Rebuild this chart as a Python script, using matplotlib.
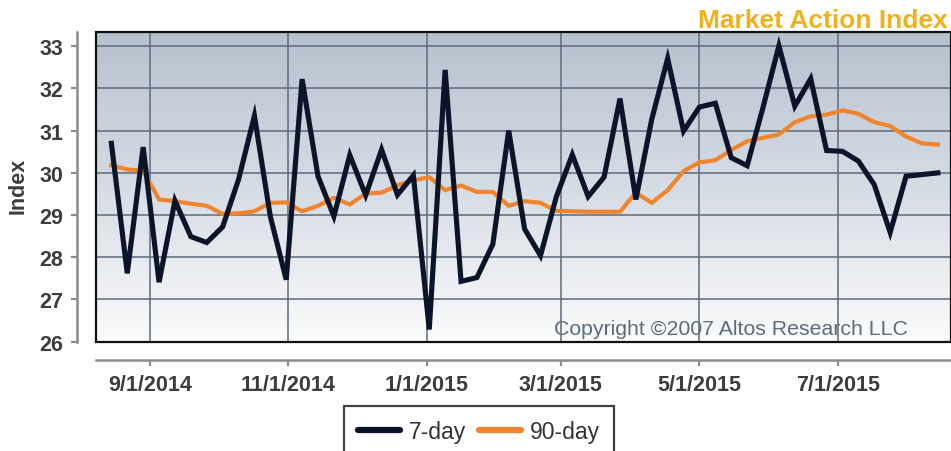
import numpy as np
import pandas as pd
import matplotlib
matplotlib.use('Agg')
import matplotlib.pyplot as plt
from matplotlib.patches import Rectangle


# weekly readings, Aug 15 2014 .. Aug 14 2015
dates = pd.date_range('2014-08-15', periods=53, freq='7D')

day7 = [30.70, 27.62, 30.61, 27.41, 29.34, 28.49, 28.35, 28.72, 29.84, 31.35,
        28.97, 27.47, 32.22, 29.92, 28.97, 30.42, 29.47, 30.55, 29.48, 29.94,
        26.29, 32.44, 27.43, 27.52, 28.31, 31.00, 28.67, 28.04, 29.44, 30.43,
        29.44, 29.90, 31.76, 29.37, 31.27, 32.71, 30.99, 31.56, 31.65, 30.36,
        30.17, 31.55, 33.01, 31.58, 32.23, 30.53, 30.51, 30.28, 29.72, 28.59,
        29.92, 29.96, 30.00]

day90 = [30.18, 30.08, 30.05, 29.37, 29.33, 29.27, 29.22, 29.03, 29.04, 29.09,
         29.29, 29.30, 29.09, 29.22, 29.41, 29.25, 29.51, 29.53, 29.71, 29.82,
         29.90, 29.59, 29.70, 29.55, 29.55, 29.22, 29.33, 29.29, 29.10, 29.09,
         29.08, 29.08, 29.08, 29.53, 29.29, 29.59, 30.04, 30.25, 30.30, 30.54,
         30.75, 30.83, 30.91, 31.20, 31.34, 31.38, 31.48, 31.40, 31.20, 31.11,
         30.86, 30.70, 30.67]

xtick_labels = ['9/1/2014', '11/1/2014', '1/1/2015', '3/1/2015', '5/1/2015', '7/1/2015']
yticks = [26, 27, 28, 29, 30, 31, 32, 33]


def main():
    plt.rcParams['font.family'] = ['Liberation Sans', 'DejaVu Sans']

    fig = plt.figure(figsize=(9.51, 4.52), dpi=100)
    ax = fig.add_axes([0.1009, 0.2418, 0.8991, 0.6845])

    # background gradient inside the plot box
    grad = np.linspace(0, 1, 256).reshape(-1, 1)
    cmap = matplotlib.colors.LinearSegmentedColormap.from_list(
        'bg', ['#b6c1cf', '#d6dce4', '#fbfbfc'])
    ax.imshow(grad, extent=[0, 1, 0, 1], transform=ax.transAxes,
              cmap=cmap, aspect='auto', zorder=0, interpolation='bicubic')

    ax.plot(dates, day7, color='#0b1429', lw=3.7, label='7-day', zorder=4,
            solid_joinstyle='miter')
    ax.plot(dates, day90, color='#f0852d', lw=3.0, label='90-day', zorder=3)

    ax.set_xlim(pd.Timestamp('2014-08-08 05:00'), pd.Timestamp('2015-08-19 19:00'))
    ax.set_ylim(26, 33.33)

    ticks = pd.to_datetime(xtick_labels, format='%m/%d/%Y')
    ax.set_xticks(ticks)
    ax.set_xticklabels(xtick_labels)
    ax.set_yticks(yticks)
    ax.set_yticklabels([str(v) for v in yticks])

    ax.grid(True, color='#5c6b7b', lw=1.1, zorder=1)
    ax.set_axisbelow(False)
    for gl in ax.get_xgridlines() + ax.get_ygridlines():
        gl.set_zorder(1)

    # offset gray axis lines, black box around the plot area
    for side in ['top', 'right']:
        ax.spines[side].set_visible(False)
    ax.spines['left'].set_position(('outward', 14))
    ax.spines['bottom'].set_position(('outward', 13))
    for side in ['left', 'bottom']:
        ax.spines[side].set_color('#8c8c8c')
        ax.spines[side].set_linewidth(1.8)
    ax.add_patch(Rectangle((0, 0), 1, 1, transform=ax.transAxes, fill=False,
                           edgecolor='#111111', lw=1.6, zorder=5, clip_on=False))

    ax.tick_params(axis='both', colors='#8c8c8c', width=1.6, length=4.5,
                   labelcolor='#3d3d3d', labelsize=15.5)
    ax.tick_params(axis='y', pad=5)
    ax.tick_params(axis='x', pad=6)
    for lab in ax.get_xticklabels() + ax.get_yticklabels():
        lab.set_fontweight('bold')

    ax.text(0.95, 0.012, 'Copyright \u00a92007 Altos Research LLC',
            transform=ax.transAxes, ha='right', va='bottom',
            color='#5c6c7c', fontsize=15.3, zorder=6)

    fig.text(0.996, 0.981, 'Market Action Index', ha='right', va='top',
             color='#f2b11c', fontsize=19, fontweight='bold')
    fig.text(18 / 951, 1 - 186 / 452, 'Index', rotation=90, ha='center',
             va='center', color='#3d3d3d', fontsize=15.5, fontweight='bold')

    leg = fig.legend(loc='upper center', bbox_to_anchor=(479 / 951, 1 - 407 / 452),
                     ncol=2, fontsize=16.5, frameon=True, fancybox=False,
                     borderaxespad=0, handlelength=1.85, handletextpad=0.38,
                     columnspacing=0.55, borderpad=0.6)
    leg.get_frame().set_edgecolor('#111111')
    leg.get_frame().set_linewidth(1.6)
    for t in leg.get_texts():
        t.set_color('#333333')
    for h in leg.get_lines():
        h.set_linewidth(4.5)
        h.set_solid_capstyle('round')

    fig.savefig('out.png', dpi=100)


if __name__ == '__main__':
    main()
